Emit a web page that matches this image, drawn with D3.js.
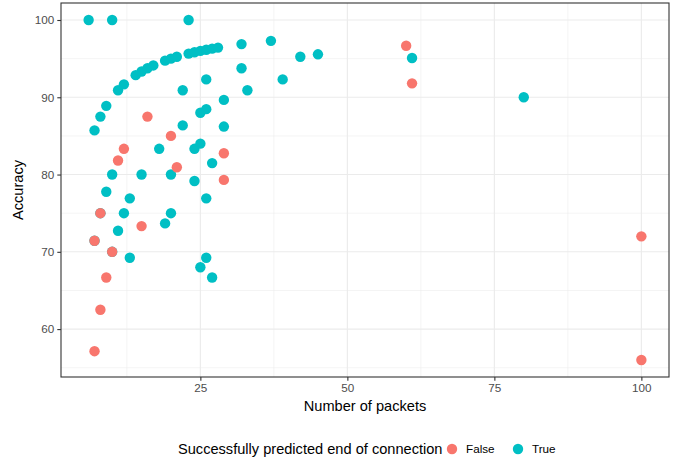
<!DOCTYPE html>
<html>
<head>
<meta charset="utf-8">
<script src="https://cdn.jsdelivr.net/npm/d3@7"></script>
<style>
    body { margin: 0; background: #fff; }
    text { font-family: "Liberation Sans", Arial, Helvetica, sans-serif; }
</style>
</head>
<body>
<div id="chart"></div>
<script>
// packets / accuracy for connections whose end was predicted (True)
var truePackets = [6, 10, 23,
    7, 8, 9, 11, 12, 14, 15, 16, 17, 19, 20, 21, 23, 24, 25, 26, 27, 28, 32, 37,
    22, 26, 32, 33, 29, 26, 25, 22, 29, 18, 25, 24, 27, 10, 15, 20,
    24, 9, 13, 26, 8, 12, 20, 19, 11, 7, 10, 13, 26, 25, 27,
    42, 45, 61, 39, 80];
var trueAccuracy = [100, 100, 100,
    85.71, 87.5, 88.89, 90.91, 91.67, 92.86, 93.33, 93.75, 94.12, 94.74, 95, 95.24, 95.65, 95.83, 96, 96.15, 96.3, 96.43, 96.88, 97.3,
    90.91, 92.31, 93.75, 90.91, 89.66, 88.46, 88, 86.36, 86.21, 83.33, 84, 83.33, 81.48, 80, 80, 80,
    79.17, 77.78, 76.92, 76.92, 75, 75, 75, 73.68, 72.73, 71.43, 70, 69.23, 69.23, 68, 66.67,
    95.24, 95.56, 95.08, 92.31, 90];

// ... and whose end was missed (False)
var falsePackets = [16, 20, 12, 11, 21, 29, 29, 8, 15, 7, 10, 9, 8, 7, 60, 61, 100, 100];
var falseAccuracy = [87.5, 85, 83.33, 81.82, 80.95, 82.76, 79.31, 75, 73.33, 71.43, 70, 66.67, 62.5, 57.14, 96.67, 91.8, 72, 56];

var groups = ["False", "True"];
var groupColors = ["#F8766D", "#00BFC4"];
var xTicks = [25, 50, 75, 100];
var yTicks = [60, 70, 80, 90, 100];

var width = 689, height = 462;
var panel = {left: 61, right: 669, top: 3, bottom: 377};

var points = [];
truePackets.forEach(function (d, i) {
    points.push({n: d, acc: trueAccuracy[i], group: "True"});
});
falsePackets.forEach(function (d, i) {
    points.push({n: d, acc: falseAccuracy[i], group: "False"});
});

var color = d3.scaleOrdinal().domain(groups).range(groupColors);

// ggplot style 5% expansion
function expand(ext) {
    var pad = (ext[1] - ext[0]) * 0.05;
    return [ext[0] - pad, ext[1] + pad];
}

var x = d3.scaleLinear()
    .domain(expand(d3.extent(points, function (d) { return d.n; })))
    .range([panel.left, panel.right]);
var y = d3.scaleLinear()
    .domain(expand(d3.extent(points, function (d) { return d.acc; })))
    .range([panel.bottom, panel.top]);

var svg = d3.select("#chart").append("svg")
    .attr("width", width)
    .attr("height", height);

// minor grid
var xMinor = [12.5, 37.5, 62.5, 87.5];
var yMinor = [55, 65, 75, 85, 95];
svg.selectAll("line.xminor").data(xMinor).enter().append("line")
    .attr("x1", function (d) { return x(d); }).attr("x2", function (d) { return x(d); })
    .attr("y1", panel.top).attr("y2", panel.bottom)
    .attr("stroke", "#EBEBEB").attr("stroke-width", 0.55);
svg.selectAll("line.yminor").data(yMinor).enter().append("line")
    .attr("y1", function (d) { return y(d); }).attr("y2", function (d) { return y(d); })
    .attr("x1", panel.left).attr("x2", panel.right)
    .attr("stroke", "#EBEBEB").attr("stroke-width", 0.55);

// major grid
svg.selectAll("line.xmajor").data(xTicks).enter().append("line")
    .attr("x1", function (d) { return x(d); }).attr("x2", function (d) { return x(d); })
    .attr("y1", panel.top).attr("y2", panel.bottom)
    .attr("stroke", "#EBEBEB").attr("stroke-width", 1.1);
svg.selectAll("line.ymajor").data(yTicks).enter().append("line")
    .attr("y1", function (d) { return y(d); }).attr("y2", function (d) { return y(d); })
    .attr("x1", panel.left).attr("x2", panel.right)
    .attr("stroke", "#EBEBEB").attr("stroke-width", 1.1);

// points
svg.selectAll("circle.pt").data(points).enter().append("circle")
    .attr("class", "pt")
    .attr("cx", function (d) { return x(d.n); })
    .attr("cy", function (d) { return y(d.acc); })
    .attr("r", 5.2)
    .attr("fill", function (d) { return color(d.group); });

// panel border
svg.append("rect")
    .attr("x", panel.left).attr("y", panel.top)
    .attr("width", panel.right - panel.left).attr("height", panel.bottom - panel.top)
    .attr("fill", "none").attr("stroke", "#333333").attr("stroke-width", 1.1);

// axes
var xAxis = svg.append("g")
    .attr("transform", "translate(0," + panel.bottom + ")")
    .call(d3.axisBottom(x).tickValues(xTicks).tickSize(3.7).tickPadding(3));
var yAxis = svg.append("g")
    .attr("transform", "translate(" + panel.left + ",0)")
    .call(d3.axisLeft(y).tickValues(yTicks).tickSize(3.7).tickPadding(3));
[xAxis, yAxis].forEach(function (g) {
    g.select(".domain").remove();
    g.selectAll(".tick line").attr("stroke", "#333333").attr("stroke-width", 1.1);
    g.selectAll(".tick text")
        .attr("fill", "#4D4D4D")
        .style("font-size", "11.7px")
        .style("font-family", "'Liberation Sans', Arial, sans-serif");
});

// axis titles
svg.append("text")
    .attr("x", (panel.left + panel.right) / 2)
    .attr("y", 411)
    .attr("text-anchor", "middle")
    .style("font-size", "14.6px")
    .text("Number of packets");

svg.append("text")
    .attr("transform", "translate(23," + ((panel.top + panel.bottom) / 2) + ") rotate(-90)")
    .attr("text-anchor", "middle")
    .style("font-size", "14.6px")
    .text("Accuracy");

// legend
var legend = svg.append("g").attr("transform", "translate(0,449)");
legend.append("text")
    .attr("x", 178)
    .attr("y", 5)
    .style("font-size", "14.6px")
    .text("Successfully predicted end of connection");

var keyX = [452, 518];
legend.selectAll("circle.key").data(groups).enter().append("circle")
    .attr("class", "key")
    .attr("cx", function (d, i) { return keyX[i]; })
    .attr("cy", 0)
    .attr("r", 5.2)
    .attr("fill", function (d) { return color(d); });
legend.selectAll("text.key").data(groups).enter().append("text")
    .attr("class", "key")
    .attr("x", function (d, i) { return keyX[i] + 14; })
    .attr("y", 4)
    .style("font-size", "11.7px")
    .text(function (d) { return d; });
</script>
</body>
</html>
